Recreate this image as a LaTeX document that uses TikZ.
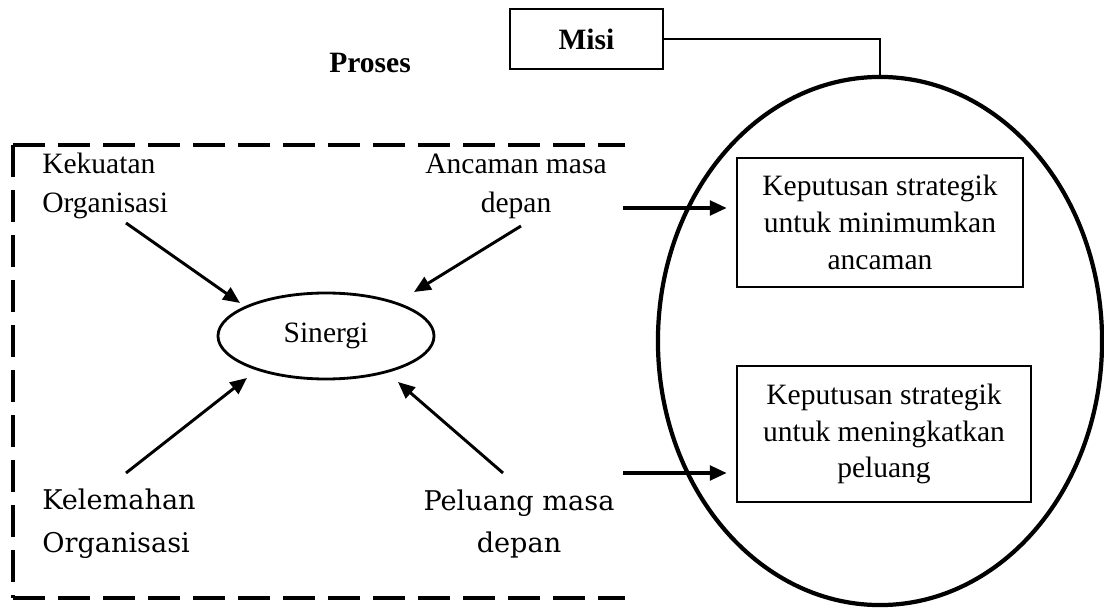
\documentclass[tikz,border=0pt]{standalone}
\usepackage{fontspec}
\setmainfont{Liberation Serif}
\newfontfamily\palfont{DejaVu Serif}
\usetikzlibrary{shapes.geometric,arrows.meta}
\begin{document}
\begin{tikzpicture}[x=0.025cm,y=-0.025cm,
 lbl/.style={font=\fontsize{21}{27.7}\selectfont, inner sep=0pt},
 biglbl/.style={font=\palfont\fontsize{19.3}{30.5}\selectfont, inner sep=0pt},
 box/.style={draw, line width=2pt, rectangle, inner sep=0pt, align=center, font=\fontsize{21}{26.2}\selectfont},
 arr/.style={line width=2.1pt, -{Triangle[length=0.42cm,width=0.36cm]}},
 dashline/.style={line width=3.4pt, dash pattern=on 0.8cm off 0.325cm},
]
\useasboundingbox (0,0) rectangle (1104,609);

% Misi and Proses
\node[box, minimum width=3.825cm, minimum height=1.5cm, font=\bfseries\fontsize{21}{26}\selectfont] (misi) at (586.5,39) {Misi};
\node[font=\bfseries\fontsize{21}{26}\selectfont, inner sep=0pt] (proses) at (370,63) {Proses};

% big ellipse and boxes
\node[draw, ellipse, line width=3pt, minimum width=11.1cm, minimum height=13.2cm, inner sep=0pt] (big) at (880,341) {};
\node[box, minimum width=7.15cm, minimum height=3.225cm] (k1) at (880,222.5) {Keputusan strategik\\untuk minimumkan\\ancaman};
\node[box, minimum width=7.35cm, minimum height=3.4cm] (k2) at (884,434) {Keputusan strategik\\untuk meningkatkan\\peluang};

\draw[line width=2pt] (misi.east) -| (big.north);

% Sinergi
\node[draw, ellipse, line width=2pt, minimum width=5.4cm, minimum height=2.15cm, inner sep=0pt, font=\fontsize{21}{26}\selectfont] (sin) at (326,336) {Sinergi};

% labels
\node[lbl, align=left, anchor=west] (kek) at (42,185.6) {Kekuatan\\Organisasi};
\node[lbl, align=center] (anc) at (516,186) {Ancaman masa\\depan};
\node[biglbl, align=left, anchor=west] (kel) at (42,524) {Kelemahan\\Organisasi};
\node[biglbl, align=center] (pel) at (519,524) {Peluang masa\\depan};

% arrow ends
\coordinate (t1) at (126,223); \coordinate (h1) at (240,303);
\coordinate (t2) at (521,226); \coordinate (h2) at (414,292);
\coordinate (t3) at (126,473); \coordinate (h3) at (247,378);
\coordinate (t4) at (503,473); \coordinate (h4) at (398,382);
\coordinate (a1) at (623,208); \coordinate (a2) at (623,473);

\draw[arr] (t1) -- (h1);
\draw[arr] (t2) -- (h2);
\draw[arr] (t3) -- (h3);
\draw[arr] (t4) -- (h4);
\draw[arr, line width=2.6pt, shorten >=0.22cm] (a1) -- (a1 -| k1.west);
\draw[arr, line width=2.6pt, shorten >=0.22cm] (a2) -- (a2 -| k2.west);

% dashed frame
\coordinate (dtl) at (13,145); \coordinate (dbl) at (13,598);
\coordinate (dtr) at (625,145); \coordinate (dbr) at (625,598);
\draw[dashline] (dtl) -- (dtr);
\draw[dashline] (dtl) -- (dbl);
\draw[dashline] (dbl) -- (dbr);
\end{tikzpicture}
\end{document}
